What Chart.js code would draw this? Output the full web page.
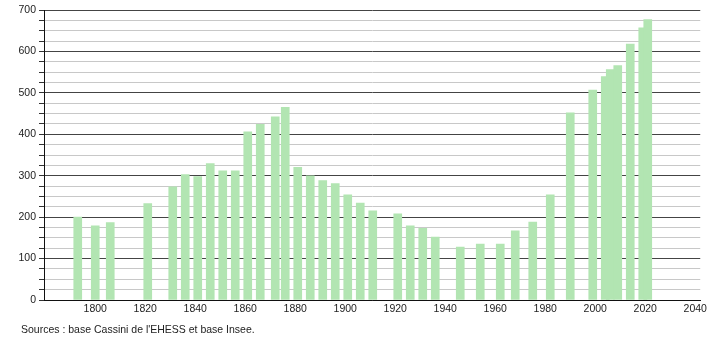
<!DOCTYPE html>
<html>
<head>
<meta charset="utf-8">
<script src="https://cdn.jsdelivr.net/npm/chart.js@4/dist/chart.umd.min.js"></script>
<style>
  html, body { margin: 0; padding: 0; background: #fff; }
  #wrap { width: 710px; height: 340px; position: relative; }
</style>
</head>
<body>
<div id="wrap"><canvas id="chart" width="710" height="340"></canvas></div>
<script>
const years = [1793, 1800, 1806, 1821, 1831, 1836, 1841, 1846, 1851, 1856, 1861, 1866, 1872, 1876,
  1881, 1886, 1891, 1896, 1901, 1906, 1911, 1921, 1926, 1931, 1936, 1946, 1954, 1962, 1968,
  1975, 1982, 1990, 1999, 2004, 2006, 2009, 2014, 2019, 2021]
const population = [200, 179, 187, 233, 273, 303, 298, 329, 312, 312, 406, 424, 442, 465,
  320, 300, 288, 281, 254, 234, 215, 208, 179, 173, 152, 128, 135, 135, 167,
  188, 254, 452, 507, 539, 556, 566, 618, 657, 677]
const xTicks = [1800, 1820, 1840, 1860, 1880, 1900, 1920, 1940, 1960, 1980, 2000, 2020, 2040]
const yTicks = [0, 100, 200, 300, 400, 500, 600, 700]
const source = "Sources : base Cassini de l'EHESS et base Insee."

const ctx = document.querySelector('#chart').getContext('2d')
const font = { family: "'Liberation Sans', Arial, sans-serif", size: 10.5 }

// footer line under the axis
const footer = {
  id: 'footer',
  afterDraw(chart) {
    const c = chart.ctx
    c.save()
    c.font = "10.5px 'Liberation Sans', Arial, sans-serif"
    c.fillStyle = '#222'
    c.textBaseline = 'middle'
    c.fillText(source, 21, 330)
    c.restore()
  }
}

new Chart(ctx, {
  type: 'bar',
  data: {
    datasets: [{
      data: years.map((y, i) => ({ x: y, y: population[i] })),
      backgroundColor: '#b2e5b2',
      borderWidth: 0,
      barThickness: 8
    }]
  },
  options: {
    responsive: false,
    animation: false,
    layout: { padding: { top: 10, right: 9, left: 0, bottom: 0 } },
    plugins: { legend: { display: false }, tooltip: { enabled: false } },
    scales: {
      x: {
        type: 'linear',
        offset: false,
        min: 1779.5,
        max: 2042,
        grid: { display: false, drawTicks: false, offset: false },
        border: { display: true, color: '#111', width: 1 },
        afterBuildTicks: scale => { scale.ticks = xTicks.map(v => ({ value: v })) },
        afterFit: scale => { scale.height = 40 },
        ticks: { color: '#222', font: font, padding: 3, maxRotation: 0, autoSkip: false,
          callback: v => String(v) }
      },
      y: {
        min: 0,
        max: 700,
        grid: {
          color: c => (c.tick && c.tick.value % 100 === 0) ? '#444' : '#c8c8c8',
          tickColor: '#333',
          tickLength: 5
        },
        border: { display: true, color: '#111', width: 1 },
        afterFit: scale => { scale.width = 44 },
        ticks: {
          stepSize: 25,
          color: '#222',
          font: font,
          padding: 3,
          autoSkip: false,
          callback: v => yTicks.includes(v) ? String(v) : ''
        }
      }
    }
  },
  plugins: [footer]
})
</script>
</body>
</html>
